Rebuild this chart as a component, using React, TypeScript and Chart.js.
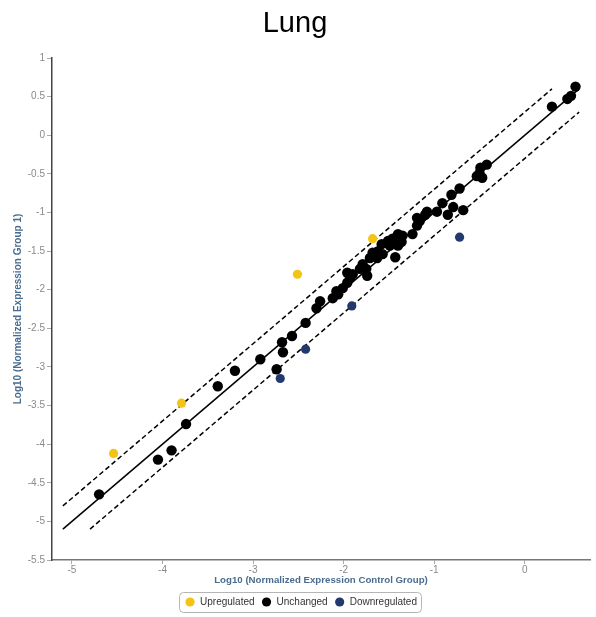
import React, { useEffect, useRef } from "react";
import { Chart, registerables } from "chart.js";

Chart.register(...registerables);

// ---- data (log10 normalized expression) ----
const upregulatedX = [-4.54, -3.79, -2.51, -1.68];
const upregulatedY = [-4.12, -3.47, -1.80, -1.34];

const downregulatedX = [-2.70, -2.42, -1.91, -0.72];
const downregulatedY = [-3.15, -2.77, -2.21, -1.32];

const unchangedX = [
  -4.70, -4.05, -3.90, -3.74, -3.39, -3.20, -2.92, -2.74, -2.68, -2.67,
  -2.57, -2.42, -2.30, -2.26, -2.12, -2.06, -2.08, -2.01, -1.96, -1.93,
  -1.96, -1.90, -1.82, -1.79, -1.75, -1.74, -1.71, -1.68, -1.62, -1.57,
  -1.63, -1.58, -1.51, -1.49, -1.43, -1.40, -1.46, -1.40, -1.35, -1.36,
  -1.24, -1.19, -1.19, -1.16, -1.10, -1.08, -0.97, -0.91, -0.85, -0.79,
  -0.81, -0.72, -0.68, -0.53, -0.50, -0.47, -0.49, -0.42, 0.30, 0.47,
  0.51, 0.56,
];
const unchangedY = [
  -4.65, -4.20, -4.08, -3.74, -3.25, -3.05, -2.90, -3.03, -2.68, -2.81,
  -2.60, -2.43, -2.24, -2.15, -2.11, -2.06, -2.02, -1.98, -1.91, -1.85,
  -1.78, -1.80, -1.73, -1.67, -1.73, -1.82, -1.59, -1.52, -1.50, -1.54,
  -1.59, -1.41, -1.37, -1.43, -1.58, -1.43, -1.34, -1.28, -1.30, -1.38,
  -1.28, -1.17, -1.07, -1.11, -1.03, -0.99, -0.99, -0.88, -1.03, -0.93,
  -0.77, -0.69, -0.97, -0.53, -0.49, -0.55, -0.42, -0.38, 0.37, 0.47,
  0.51, 0.63,
];

// reference lines: y = x and y = x ± log10(2)
const diagonalX = [-5.1, 0.6];
const diagonalY = [-5.1, 0.6];
const upperX = [-5.1, 0.3];
const upperY = [-4.8, 0.6];
const lowerX = [-4.8, 0.6];
const lowerY = [-5.1, 0.3];

const xTicks = [-5, -4, -3, -2, -1, 0];
const yTicks = [1, 0.5, 0, -0.5, -1, -1.5, -2, -2.5, -3, -3.5, -4, -4.5, -5, -5.5];

const seriesNames = ["Upregulated", "Unchanged", "Downregulated"];
const chartTitle = "Lung";
const xTitle = "Log10 (Normalized Expression Control Group)";
const yTitle = "Log10 (Normalized Expression Group 1)";

const zip = (xs: number[], ys: number[]) => xs.map((x, i) => ({ x, y: ys[i] }));

const FONT = "'Liberation Sans', Arial, sans-serif";
const YELLOW = "#F3C316";
const NAVY = "#22396E";
const AXIS_BLUE = "#4A6C8E";

const legendShift = {
  id: "legendShift",
  afterLayout(chart: any) {
    const lg = chart.legend;
    if (!lg) return;
    lg.left += 6;
    lg.right += 6;
  },
};

const legendBorder = {
  id: "legendBorder",
  afterDraw(chart: any) {
    const lg = chart.legend;
    if (!lg || !lg.legendHitBoxes || !lg.legendHitBoxes.length) return;
    const boxes = lg.legendHitBoxes;
    let l = Infinity, r = -Infinity, t = Infinity, b = -Infinity;
    boxes.forEach((h: any) => {
      l = Math.min(l, h.left);
      r = Math.max(r, h.left + h.width);
      t = Math.min(t, h.top);
      b = Math.max(b, h.top + h.height);
    });
    const ctx = chart.ctx;
    ctx.save();
    ctx.strokeStyle = "#b5b5b5";
    ctx.lineWidth = 1;
    ctx.beginPath();
    const x0 = Math.round(l - 6) + 0.5;
    const y0 = Math.round(t - 5) + 0.5;
    const w = Math.round(r - l + 10);
    const h = Math.round(b - t + 10);
    (ctx as any).roundRect(x0, y0, w, h, 4);
    ctx.stroke();
    ctx.restore();
  },
};

export default function App() {
  const ref = useRef<HTMLCanvasElement>(null);

  useEffect(() => {
    if (!ref.current) return;
    Chart.defaults.font.family = FONT;
    const pointDs = (label: string, data: any[], color: string, r: number) => ({
      label,
      data,
      backgroundColor: color,
      borderColor: color,
      pointRadius: r,
      pointBorderWidth: 0,
      showLine: false,
    });
    const lineDs = (data: any[], dashed: boolean) => ({
      label: "",
      data,
      showLine: true,
      borderColor: "#000",
      backgroundColor: "#000",
      borderWidth: 1.5,
      borderDash: dashed ? [5, 3] : [],
      pointRadius: 0,
      fill: false,
    });
    const chart = new Chart(ref.current, {
      type: "scatter",
      data: {
        datasets: [
          pointDs(seriesNames[0], zip(upregulatedX, upregulatedY), YELLOW, 4.6),
          pointDs(seriesNames[1], zip(unchangedX, unchangedY), "#000", 5.2),
          pointDs(seriesNames[2], zip(downregulatedX, downregulatedY), NAVY, 4.6),
          lineDs(zip(diagonalX, diagonalY), false),
          lineDs(zip(upperX, upperY), true),
          lineDs(zip(lowerX, lowerY), true),
        ] as any,
      },
      options: {
        responsive: false,
        animation: false,
        layout: { padding: { left: 0, right: 6, top: 0, bottom: 0 } },
        plugins: {
          tooltip: { enabled: false },
          title: {
            display: true,
            text: chartTitle,
            color: "#000",
            font: { size: 29, weight: "normal", family: FONT, lineHeight: 1.2 },
            padding: { top: 7, bottom: 16.2 },
          },
          legend: {
            display: true,
            position: "bottom",
            labels: {
              usePointStyle: true,
              pointStyle: "circle",
              boxWidth: 10,
              boxHeight: 6.5,
              padding: 7,
              color: "#333",
              font: { size: 10, family: FONT },
              filter: (item: any) => item.datasetIndex < 3,
            },
          },
        },
        scales: {
          x: {
            type: "linear",
            min: -5.22,
            max: 0.72,
            afterBuildTicks: (s: any) => {
              s.ticks = xTicks.map((v) => ({ value: v }));
            },
            afterFit: (s: any) => {
              s.height = 30;
            },
            ticks: {
              color: "#8a8a8a",
              font: { size: 10, family: FONT },
              padding: 0,
              callback: (v: any) => String(v),
            },
            grid: {
              display: true,
              drawOnChartArea: false,
              drawTicks: true,
              tickLength: 4,
              tickColor: "#aaa",
            },
            border: { display: true, color: "#777", width: 1.5 },
            title: {
              display: true,
              text: xTitle,
              color: AXIS_BLUE,
              font: { size: 9.7, weight: "bold", family: FONT, lineHeight: 1.2 },
              padding: { top: 0, bottom: 4 },
            },
          },
          y: {
            type: "linear",
            min: -5.5,
            max: 1,
            afterBuildTicks: (s: any) => {
              s.ticks = yTicks.map((v) => ({ value: v }));
            },
            afterFit: (s: any) => {
              s.width = 52;
            },
            ticks: {
              color: "#8a8a8a",
              font: { size: 10, family: FONT },
              padding: 2,
              callback: (v: any) => String(v),
            },
            grid: {
              display: true,
              drawOnChartArea: false,
              drawTicks: true,
              tickLength: 5,
              tickColor: "#aaa",
            },
            border: { display: true, color: "#444", width: 1.5 },
            title: {
              display: true,
              text: yTitle,
              color: AXIS_BLUE,
              font: { size: 10, weight: "bold", family: FONT, lineHeight: 1.2 },
              padding: { top: 12, bottom: 0 },
            },
          },
        },
      } as any,
      plugins: [legendShift, legendBorder],
    });
    return () => chart.destroy();
  }, []);

  return (
    <div
      style={{
        position: "fixed",
        left: 0,
        top: 0,
        width: 596,
        height: 617,
        background: "#fff",
      }}
    >
      <canvas ref={ref} width={596} height={617} style={{ display: "block" }} />
    </div>
  );
}
